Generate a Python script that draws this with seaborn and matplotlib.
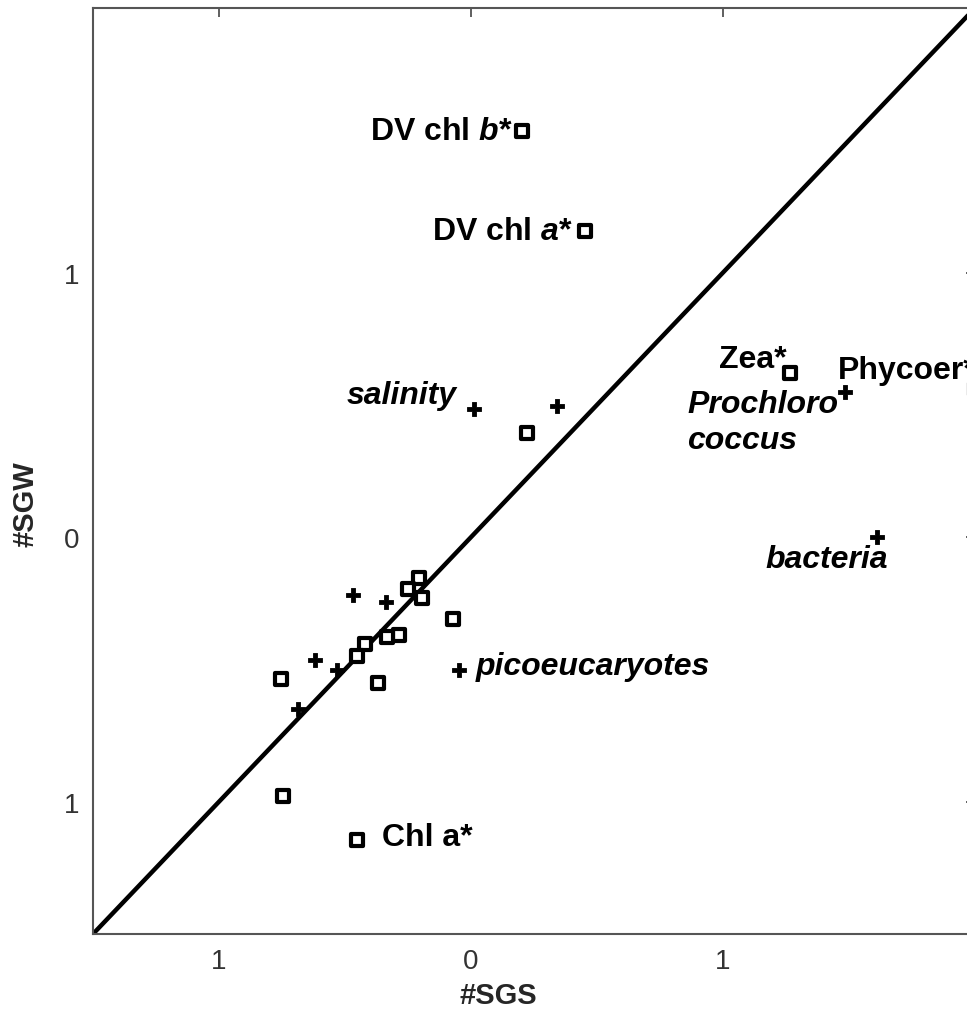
import numpy as np
import pandas as pd
import matplotlib
matplotlib.use('Agg')
import matplotlib.pyplot as plt
import seaborn as sns

# pigments / environmental variables (squares)
sq_x = [0.202, 0.452, 1.266, 0.222, -0.452, -0.746, -0.754, -0.369, -0.071,
        -0.206, -0.250, -0.194, -0.286, -0.333, -0.420, -0.452, 2.00]
sq_y = [1.536, 1.158, 0.619, 0.392, -1.143, -0.977, -0.536, -0.551, -0.309,
        -0.155, -0.196, -0.230, -0.370, -0.377, -0.404, -0.449, 0.56]

# organisms / salinity (crosses)
pl_x = [0.012, 0.341, 1.484, 1.611, -0.048, -0.468, -0.337, -0.619, -0.532, -0.687]
pl_y = [0.483, 0.494, 0.547, 0.000, -0.502, -0.219, -0.245, -0.464, -0.502, -0.649]

# labels: text, x, y, horizontal alignment, italic
labels = [
    ('DV chl $\\mathit{b}$*', 0.163, 1.536, 'right', False),
    ('DV chl $\\mathit{a}$*', 0.405, 1.158, 'right', False),
    ('Zea*', 1.254, 0.672, 'right', False),
    ('Phycoer*', 1.456, 0.630, 'left', False),
    ('Prochloro', 0.857, 0.502, 'left', True),
    ('coccus', 0.857, 0.366, 'left', True),
    ('salinity', -0.056, 0.536, 'right', True),
    ('bacteria', 1.167, -0.083, 'left', True),
    ('picoeucaryotes', 0.020, -0.487, 'left', True),
    ('Chl a*', -0.353, -1.132, 'left', False),
]

ticks = [-1, 0, 1]
tick_labels = ['1', '0', '1']

sns.set_style('white')
plt.rcParams['font.family'] = ['Liberation Sans', 'DejaVu Sans']
plt.rcParams['mathtext.fontset'] = 'custom'
plt.rcParams['mathtext.it'] = 'Liberation Sans:bold:italic'
plt.rcParams['mathtext.rm'] = 'Liberation Sans:bold'

fig = plt.figure(figsize=(9.67, 10.12), dpi=100)
ax = fig.add_axes([93 / 967, 1 - 935 / 1012, 882 / 967, 926 / 1012])

# 1:1 line
diag = pd.DataFrame({'x': [-1.5, 2], 'y': [-1.5, 2]})
sns.lineplot(data=diag, x='x', y='y', color='black', linewidth=3.2, ax=ax, zorder=1)

df_sq = pd.DataFrame({'x': sq_x, 'y': sq_y})
df_pl = pd.DataFrame({'x': pl_x, 'y': pl_y})
sns.scatterplot(data=df_sq, x='x', y='y', marker='s', s=80, facecolor='white',
                edgecolor='black', linewidth=3.0, ax=ax, zorder=3, clip_on=False)
sns.scatterplot(data=df_pl, x='x', y='y', marker='P', s=100, color='black',
                edgecolor='black', linewidth=0.6, ax=ax, zorder=3, clip_on=False)

for txt, x, y, ha, it in labels:
    ax.text(x, y, txt, ha=ha, va='center', fontsize=23, fontweight='bold',
            style='italic' if it else 'normal', color='black')

ax.set_xlim(-1.5, 2)
ax.set_ylim(-1.5, 2)
ax.set_xticks(ticks)
ax.set_xticklabels(tick_labels)
ax.set_yticks(ticks)
ax.set_yticklabels(tick_labels)
ax.tick_params(direction='in', length=6.5, width=1.2, color='#444444',
               top=True, right=True, labelsize=20, labelcolor='#333333', pad=10)
for sp in ax.spines.values():
    sp.set_color('#555555')
    sp.set_linewidth(1.5)

ax.set_xlabel('#SGS', fontsize=21, fontweight='bold', va='center')
ax.set_ylabel('#SGW', fontsize=21, fontweight='bold', va='center')
ax.xaxis.set_label_coords(0.459, -0.066)
ax.yaxis.set_label_coords(-0.077, 0.465)

fig.savefig('out.png', dpi=100)
